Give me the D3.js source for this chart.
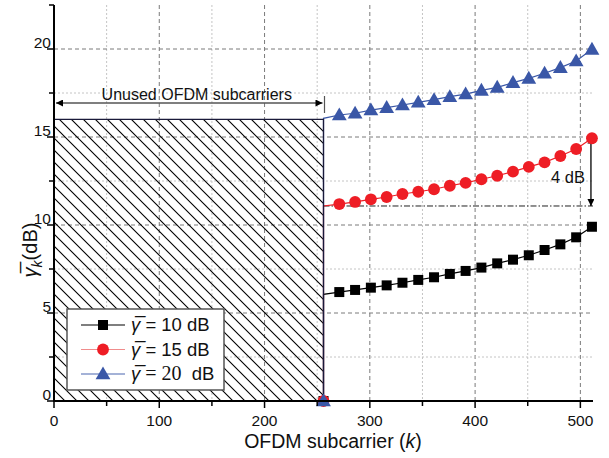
<!DOCTYPE html>
<html><head><meta charset="utf-8">
<script src="https://cdn.jsdelivr.net/npm/d3@7"></script>
<style>body{margin:0;background:#fff}svg{display:block;font-family:Arial,"Liberation Sans",sans-serif}</style>
</head><body>
<svg id="c" width="609" height="458"></svg>
<script>
// ---- data ----
const edgeK = 256;                       // first used subcarrier
const markerK = [271,286,301,316,331,346,361,376,391,406,421,436,451,466,481,496,511];
const startVals = [6.06, 11.08, 16.06];  // value at k = 256
const snr10 = [6.19,6.31,6.44,6.57,6.72,6.88,7.03,7.22,7.39,7.58,7.82,8.03,8.28,8.58,8.90,9.30,9.90];
const snr15 = [11.19,11.31,11.46,11.59,11.76,11.89,12.03,12.23,12.39,12.60,12.80,13.03,13.30,13.56,13.92,14.32,14.93];
const snr20 = [16.25,16.35,16.53,16.67,16.82,16.97,17.12,17.29,17.44,17.65,17.82,18.09,18.33,18.62,18.94,19.32,19.98];
const seriesNames = ["10", "15", "20"];
const xTicks = [0,100,200,300,400,500];
const yTicks = [0,5,10,15,20];
const unusedTop = 16;     // height of hatched region (dB)
const gapDB = 4;

const svg = d3.select("#c");
const x = d3.scaleLinear().domain([0,512]).range([54,593]);
const y = d3.scaleLinear().domain([0,22.5]).range([401,5]);

const defs = svg.append("defs");
const pat = defs.append("pattern").attr("id","hatch").attr("patternUnits","userSpaceOnUse")
  .attr("width",12).attr("height",12);
pat.append("path").attr("d","M-1,-1L13,13M-1,11L1,13M11,-1L13,1").attr("stroke","#000").attr("stroke-width",1.1);
function arrowDef(id){
  defs.append("marker").attr("id",id).attr("viewBox","0 0 10 10").attr("refX",10).attr("refY",5)
    .attr("markerWidth",10).attr("markerHeight",7).attr("markerUnits","userSpaceOnUse")
    .attr("orient","auto-start-reverse")
    .append("path").attr("d","M0,0L10,5L0,10z").attr("fill","#000");
}
arrowDef("arr");

// grid
const g = svg.append("g");
d3.range(50,512,50).forEach(v=>{
  const major = v%100===0;
  g.append("line").attr("x1",x(v)).attr("x2",x(v)).attr("y1",y(22.5)).attr("y2",y(0))
   .attr("stroke",major?"#7a7a7a":"#c4c4c4").attr("stroke-width",1)
   .attr("stroke-dasharray",major?"4,3":"2,2");
});
d3.range(2.5,22.5,2.5).forEach(v=>{
  const major = v%5===0;
  g.append("line").attr("x1",x(0)).attr("x2",x(512)).attr("y1",y(v)).attr("y2",y(v))
   .attr("stroke",major?"#7a7a7a":"#c4c4c4").attr("stroke-width",1)
   .attr("stroke-dasharray",major?"4,3":"2,2");
});

// hatched unused region
svg.append("rect").attr("x",x(0)).attr("y",y(unusedTop)).attr("width",x(edgeK)-x(0))
  .attr("height",y(0)-y(unusedTop)).attr("fill","url(#hatch)").attr("stroke","none");

// unused arrow + label
svg.append("line").attr("x1",x(0)+2).attr("x2",x(edgeK)-1).attr("y1",103).attr("y2",103)
  .attr("stroke","#555").attr("stroke-width",1.5)
  .attr("marker-start","url(#arr)").attr("marker-end","url(#arr)");
svg.append("line").attr("x1",x(edgeK)+1).attr("x2",x(edgeK)+1).attr("y1",96).attr("y2",113)
  .attr("stroke","#555").attr("stroke-width",1.2);
svg.append("text").attr("x",(x(0)+x(edgeK))/2+8).attr("y",100).attr("text-anchor","middle")
  .attr("font-size",16).attr("fill","#111").text("Unused OFDM subcarriers");

// dash-dot reference + 4 dB arrow
svg.append("line").attr("x1",x(edgeK)).attr("x2",x(512)).attr("y1",y(startVals[1])).attr("y2",y(startVals[1]))
  .attr("stroke","#222").attr("stroke-width",1).attr("stroke-dasharray","6,2,1.5,2");
svg.append("line").attr("x1",x(511)-1).attr("x2",x(511)-1)
  .attr("y1",y(startVals[1])).attr("y2",y(startVals[1]+gapDB)+1)
  .attr("stroke","#000").attr("stroke-width",1.3)
  .attr("marker-start","url(#arr)").attr("marker-end","url(#arr)");
svg.append("text").attr("x",585).attr("y",183).attr("text-anchor","end").attr("font-size",16.5)
  .attr("fill","#111").text(gapDB+" dB");

// series
const series = [
  {vals:snr10, start:startVals[0], color:"#000", line:"#000", legLine:"#000", shape:d3.symbolSquare, size:100},
  {vals:snr15, start:startVals[1], color:"#ee1d25", line:"#ee1d25", legLine:"#f08c8c", shape:d3.symbolCircle, size:110},
  {vals:snr20, start:startVals[2], color:"#3a57a7", line:"#3a57a7", legLine:"#4a66b0", shape:d3.symbolTriangle, size:95},
];
const lineGen = d3.line().x(d=>x(d[0])).y(d=>y(d[1]));
series.forEach(s=>{
  const pts = [[edgeK,0],[edgeK,s.start]].concat(markerK.map((k,i)=>[k,s.vals[i]]));
  svg.append("path").attr("d",lineGen(pts)).attr("fill","none").attr("stroke",s.line).attr("stroke-width",1.2);
});
// hatched border drawn over the vertical edge lines
svg.append("path")
  .attr("d",`M${x(0)},${y(unusedTop)}H${x(edgeK)}V${y(0)}`)
  .attr("fill","none").attr("stroke","#1a1a3a").attr("stroke-width",1.3);
series.forEach(s=>{
  const mpts = [[edgeK,0]].concat(markerK.map((k,i)=>[k,s.vals[i]]));
  svg.append("g").selectAll("path").data(mpts).join("path")
    .attr("d",d3.symbol(s.shape,s.size)())
    .attr("transform",d=>`translate(${x(d[0])},${y(d[1]) + (s.shape===d3.symbolTriangle?1:0)})`)
    .attr("fill",s.color);
});

// axes
const xAxis = svg.append("g").attr("transform",`translate(0,${y(0)})`);
xAxis.append("line").attr("x1",x(0)-1).attr("x2",x(512)).attr("stroke","#000").attr("stroke-width",2);
d3.range(0,513,50).forEach(v=>{
  xAxis.append("line").attr("x1",x(v)).attr("x2",x(v)).attr("y1",0).attr("y2",v%100===0?7:5)
    .attr("stroke","#000").attr("stroke-width",1.5);
});
xTicks.forEach(v=>{
  xAxis.append("text").attr("x",x(v)).attr("y",25).attr("text-anchor","middle").attr("font-size",15.5)
    .attr("fill","#111").text(v);
});
const yAxis = svg.append("g");
yAxis.append("line").attr("x1",x(0)).attr("x2",x(0)).attr("y1",y(22.5)).attr("y2",y(0)+1)
  .attr("stroke","#000").attr("stroke-width",2);
d3.range(0,22.6,2.5).forEach(v=>{
  yAxis.append("line").attr("x1",x(0)-(v%5===0?7:5)).attr("x2",x(0)).attr("y1",y(v)).attr("y2",y(v))
    .attr("stroke","#000").attr("stroke-width",1.5);
});
yTicks.forEach(v=>{
  yAxis.append("text").attr("x",x(0)-3).attr("y",y(v)-1).attr("text-anchor","end").attr("font-size",15.5)
    .attr("fill","#111").text(v);
});

// axis titles
const xt = svg.append("text").attr("x",333).attr("y",448).attr("text-anchor","middle").attr("font-size",19.5).attr("fill","#111");
xt.append("tspan").text("OFDM subcarrier (");
xt.append("tspan").attr("font-style","italic").text("k");
xt.append("tspan").text(")");
const yt = svg.append("text").attr("transform","translate(37,250) rotate(-90)").attr("text-anchor","middle")
  .attr("font-size",20).attr("fill","#111");
yt.append("tspan").attr("font-style","italic").text("γ\u0305");
yt.append("tspan").attr("font-style","italic").attr("font-size",14).attr("dy",5).text("k");
yt.append("tspan").attr("dy",-5).text("(dB)");

// legend
const lg = svg.append("g");
lg.append("rect").attr("x",67).attr("y",309).attr("width",157).attr("height",81)
  .attr("fill","#fff").attr("stroke","#555").attr("stroke-width",1.5);
series.forEach((s,i)=>{
  const yy = 325 + i*24.5;
  lg.append("line").attr("x1",81).attr("x2",125).attr("y1",yy).attr("y2",yy).attr("stroke",s.legLine).attr("stroke-width",1.2);
  lg.append("path").attr("d",d3.symbol(s.shape,s.size)()).attr("transform",`translate(103,${yy+(s.shape===d3.symbolTriangle?1:0)})`).attr("fill",s.color);
  const t = lg.append("text").attr("x",131).attr("y",yy+6).attr("font-size",18.5).attr("fill","#111");
  t.append("tspan").attr("font-style","italic").text("γ\u0305");
  if (i===2) {
    t.append("tspan").attr("font-family","'Liberation Serif','DejaVu Serif',serif").attr("font-size",20).text(" = "+seriesNames[i]);
    t.append("tspan").text("  dB").attr("xml:space","preserve");
  } else {
    t.append("tspan").text(" = "+seriesNames[i]+" dB");
  }
});
</script>
</body></html>
